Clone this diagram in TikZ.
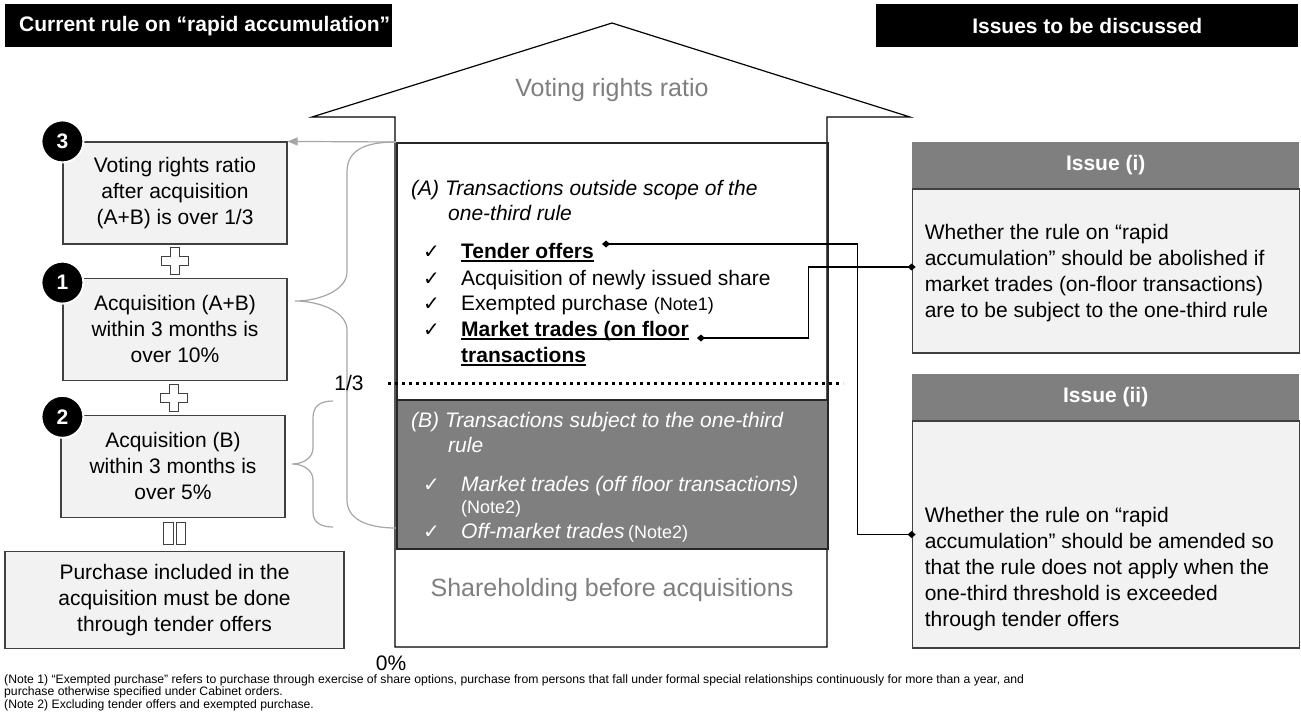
\documentclass[tikz,border=0pt]{standalone}
\usepackage{fontspec}
\setmainfont{Liberation Sans}
\newfontfamily\checkfont{DejaVu Sans}
\usetikzlibrary{arrows.meta,calc,positioning}

\definecolor{boxfill}{HTML}{F2F2F2}
\definecolor{boxline}{HTML}{404040}
\definecolor{midgray}{HTML}{7F7F7F}
\definecolor{lightline}{HTML}{A6A6A6}
\definecolor{darkline}{HTML}{262626}

\newcommand{\chk}{\makebox[38pt][l]{\checkfont\upshape\fontsize{20}{20}\selectfont ✓}}
\newcommand{\undl}[1]{\setbox0\hbox{#1}\rlap{\rule[-3.5pt]{\wd0}{1.5pt}}\box0}
\newcommand{\notefont}{\upshape\fontsize{18}{18}\selectfont}

\begin{document}
\begin{tikzpicture}[
		x=1pt, y=-1pt,
		font=\fontsize{21}{26}\selectfont,
		bar/.style={
			fill=black, minimum height=43, inner sep=0, anchor=north west
		},
		bartxt/.style={text=white, font=\bfseries\fontsize{21}{26}\selectfont, inner sep=0},
		blk/.style={
			draw=boxline, fill=boxfill, line width=1.2pt, align=center,
			minimum width=224, minimum height=102, inner sep=0
		},
		badge/.style={
			circle, fill=black, draw=white, line width=2pt, text=white,
			font=\bfseries\fontsize{21}{21}\selectfont, minimum size=42, inner sep=0
		},
		ihead/.style={
			fill=midgray, text=white, font=\bfseries\fontsize{21}{26}\selectfont,
			minimum width=387, minimum height=46, inner sep=0, anchor=north west
		},
		ibody/.style={
			draw=boxline, fill=boxfill, line width=1.2pt,
			minimum width=387, inner sep=0
		},
		itxt/.style={anchor=north west, align=left, inner sep=0},
		item/.style={anchor=base west, inner sep=0},
		graytxt/.style={text=midgray, font=\fontsize{25}{30}\selectfont},
		plusmk/.style={fill=white, draw=boxline, line width=1pt},
		link/.style={
			line width=1.2pt, {Diamond[length=8pt,width=7pt]}-{Diamond[length=8pt,width=7pt]},
			shorten <=-4pt, shorten >=-4pt
		}
		]
		\fill[white] (0,0) rectangle (1301,724);
		\useasboundingbox (0,0) rectangle (1301,724);
		
		% ---- Kopfzeilen
		\node[bar, minimum width=387] (curbar) at (5,4) {};
		\node[bartxt, anchor=west] (curtxt) at ([xshift=14pt]curbar.west) {Current rule on “rapid accumulation”};
		\node[bar, minimum width=422] (issbar) at (876,4) {};
		\node[bartxt] (isstxt) at (issbar.center) {Issues to be discussed};
		
		% ---- grosser Pfeil (Stimmrechtsanteil)
		\draw[line width=1.2pt] (312,117) -- (612,23) -- (910,117) -- (827,117) -- (827,647) -- (395,647) -- (395,117) -- cycle;
		\node[graytxt] (vrr) at (612,90) {Voting rights ratio};
		\node[graytxt] (before) at (612,590) {Shareholding before acquisitions};
		
		% ---- Klammern (hellgrau, hinter den Kaesten)
		\draw[lightline, line width=1.2pt] (396,142) .. controls (365,142) and (347,150) .. (347,172) -- (347,272)
		.. controls (347,290) and (320,301) .. (295,301) .. controls (320,301) and (347,312) .. (347,330) -- (347,500)
		.. controls (347,518) and (365,528) .. (396,528);
		\draw[lightline, line width=1.2pt] (333,401) .. controls (320,401) and (313,406) .. (313,418) -- (313,448)
		.. controls (313,458) and (303,464) .. (292,464) .. controls (303,464) and (313,470) .. (313,480) -- (313,512)
		.. controls (313,522) and (320,527) .. (333,527);
		
		% ---- Kaesten (A) und (B)
		\node[draw=darkline, line width=2pt, minimum width=431, minimum height=257, inner sep=0, anchor=north west] (abox) at (396,142) {};
		\node[draw=darkline, fill=midgray, line width=2pt, minimum width=431, minimum height=149, inner sep=0, anchor=north west] (bbox) at (396,399) {};
		
		\node[itxt, font=\itshape\fontsize{21}{25}\selectfont] (ahead) at (411,180) {(A) Transactions outside scope of the\\\hspace*{37pt}one-third rule};
		\node[item] (tender)   at (423,258) {\chk\undl{\bfseries Tender offers}};
		\node[item] (newshare) at (423,285) {\chk Acquisition of newly issued share};
		\node[item] (exempt)   at (423,310) {\chk Exempted purchase {\notefont(Note1)}};
		\node[item] (mkt)      at (423,336) {\chk\undl{\bfseries Market trades (on floor}};
		\node[item] (mkt2)     at (461,362) {\undl{\bfseries transactions}};
		
		\node[itxt, text=white, font=\itshape\fontsize{21}{25}\selectfont] (bhead) at (411,412) {(B) Transactions subject to the one-third\\\hspace*{37pt}rule};
		\node[item, text=white] (offfloor) at (423,491) {\chk\itshape Market trades (off floor transactions)};
		\node[item, text=white, font=\notefont] (note2) at (461,513) {(Note2)};
		\node[item, text=white] (offmkt)   at (423,538) {\chk{\itshape Off-market trades}\,{\notefont(Note2)}};
		
		% ---- Schwelle 1/3
		\draw[line width=3pt, dash pattern=on 3pt off 4pt] (388,383) -- (843,383);
		\node (third) at (349,383) {1/3};
		\node (zero) at (391,663) {0\%};
		
		% ---- linke Spalte: Bedingungen
		\node[blk] (b3) at (175,193) {Voting rights ratio\\after acquisition\\(A+B) is over 1/3};
		\node[blk, below=33pt of b3] (b1) {Acquisition (A+B)\\within 3 months is\\over 10\%};
		\node[blk, below=34pt of b1, xshift=-2pt] (b2) {Acquisition (B)\\within 3 months is\\over 5\%};
		\node[blk, below=33pt of b2, xshift=1.5pt, minimum width=339, minimum height=97] (tob) {Purchase included in the\\acquisition must be done\\through tender offers};
		
		\node[badge] at (b3.north west) {3};
		\node[badge] at ([yshift=-5pt]b1.north west) {1};
		\node[badge] at ([xshift=2pt,yshift=-2pt]b2.north west) {2};
		
		\foreach \a/\b in {b3/b1, b1/b2}
		\draw[plusmk] ($(\a.south)!.5!(\b.north)$) ++(-4.5,-13.5) -- ++(9,0) -- ++(0,9) -- ++(9,0) -- ++(0,9) -- ++(-9,0)
		-- ++(0,9) -- ++(-9,0) -- ++(0,-9) -- ++(-9,0) -- ++(0,-9) -- ++(9,0) -- cycle;
		\draw[boxline, line width=1pt] (163,522) rectangle (173,544) (176,522) rectangle (185,544);
		
		\draw[lightline, line width=1.2pt, -{Triangle[length=10pt,width=8pt]}] (abox.north west) -- (b3.north east);
		
		% ---- rechte Spalte: Fragen
		\node[ihead] (iss1h) at (912,142) {Issue (i)};
		\node[ibody, below=0pt of iss1h, minimum height=164] (iss1) {};
		\node[itxt] (iss1txt) at ([xshift=13pt,yshift=-36pt]iss1.north west) {Whether the rule on “rapid\\accumulation” should be abolished if\\market trades (on-floor transactions)\\are to be subject to the one-third rule};
		
		\node[ihead] (iss2h) at (912,374) {Issue (ii)};
		\node[ibody, below=0pt of iss2h, minimum height=227] (iss2) {};
		\node[itxt] (iss2txt) at ([xshift=13pt,yshift=-87pt]iss2.north west) {Whether the rule on “rapid\\accumulation” should be amended so\\that the rule does not apply when the\\one-third threshold is exceeded\\through tender offers};
		
		% ---- Verbindungen mit Rauten
		\draw[link] ([xshift=12pt,yshift=14pt]tender.base east) -| ([xshift=-54pt]iss2.west) -- (iss2.west);
		\draw[link] ([xshift=12pt,yshift=-2pt]mkt.base east) -| ([xshift=-103pt,yshift=4pt]iss1.west) -- ([yshift=4pt]iss1.west);
		
		% ---- Fussnoten
		\node[itxt, font=\fontsize{12.2}{12.5}\selectfont] (notes) at (4,674) {(Note 1) “Exempted purchase” refers to purchase through exercise of share options, purchase from persons that fall under formal special relationships continuously for more than a year, and\\purchase otherwise specified under Cabinet orders.\\(Note 2) Excluding tender offers and exempted purchase.};
	\end{tikzpicture}
\end{document}
